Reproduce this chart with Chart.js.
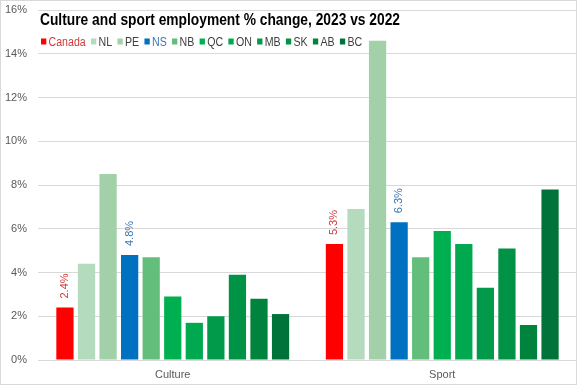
<!DOCTYPE html>
<html>
<head>
<meta charset="utf-8">
<script src="https://cdn.jsdelivr.net/npm/chart.js@4.4.1/dist/chart.umd.min.js"></script>
<style>
  html, body { margin: 0; padding: 0; background: #fff; }
  #wrap { width: 577px; height: 385px; position: relative; }
</style>
</head>
<body>
<div id="wrap"><canvas id="myChart"></canvas></div>
<script>
var chartTitle = 'Culture and sport employment % change, 2023 vs 2022';
var categories = ['Culture', 'Sport'];
var provinces = ['Canada', 'NL', 'PE', 'NS', 'NB', 'QC', 'ON', 'MB', 'SK', 'AB', 'BC'];
var culture = [2.4, 4.4, 8.5, 4.8, 4.7, 2.9, 1.7, 2.0, 3.9, 2.8, 2.1];
var sport = [5.3, 6.9, 14.6, 6.3, 4.7, 5.9, 5.3, 3.3, 5.1, 1.6, 7.8];
var yTicks = [0, 2, 4, 6, 8, 10, 12, 14, 16];
// only these two series get a value label
var labelled = ['Canada', 'NS'];

var barColors = ['#ff0000', '#b4dbbe', '#a1d0a9', '#0070c0', '#63be7b', '#00b050',
                 '#00a84f', '#009a4a', '#009245', '#00843d', '#00733a'];
var textColors = { Canada: '#d03a3a', NS: '#3a76b4' };

var datasets = provinces.map(function (p, i) {
  return {
    label: p,
    data: [culture[i], sport[i]],
    backgroundColor: barColors[i],
    borderWidth: 0
  };
});

var deco = {
  id: 'deco',
  beforeDraw: function (chart) {
    var ctx = chart.ctx;
    ctx.save();
    ctx.fillStyle = '#fff';
    ctx.fillRect(0, 0, chart.width, chart.height);
    ctx.restore();
  },
  afterDraw: function (chart) {
    var ctx = chart.ctx;
    ctx.save();

    // title, squeezed to the narrow look of the original
    ctx.fillStyle = '#000';
    ctx.font = 'bold 16px "Liberation Sans", sans-serif';
    ctx.textBaseline = 'alphabetic';
    ctx.textAlign = 'left';
    var tw = ctx.measureText(chartTitle).width;
    ctx.save();
    ctx.translate(40, 25);
    ctx.scale(360 / tw, 1);
    ctx.fillText(chartTitle, 0, 0);
    ctx.restore();

    // legend
    ctx.save();
    ctx.translate(41, 0);
    ctx.scale(0.885, 1);
    var x = 0;
    chart.data.datasets.forEach(function (ds) {
      ctx.fillStyle = ds.backgroundColor;
      ctx.fillRect(x, 38.5, 6, 6);
      x += 8.5;
      ctx.font = '12px "Liberation Sans", sans-serif';
      ctx.fillStyle = textColors[ds.label] || '#404040';
      ctx.fillText(ds.label, x, 45.5);
      x += ctx.measureText(ds.label).width + 6;
    });
    ctx.restore();

    // value labels
    ctx.font = '11px "Liberation Sans", sans-serif';
    ctx.textBaseline = 'middle';
    ctx.textAlign = 'left';
    chart.data.datasets.forEach(function (ds, i) {
      if (labelled.indexOf(ds.label) < 0) return;
      chart.getDatasetMeta(i).data.forEach(function (bar, j) {
        ctx.save();
        ctx.translate(bar.x, bar.y - 9);
        ctx.rotate(-Math.PI / 2);
        ctx.fillStyle = textColors[ds.label];
        ctx.fillText(ds.data[j].toFixed(1) + '%', 0, 0);
        ctx.restore();
      });
    });

    // chart border
    ctx.strokeStyle = '#d9d9d9';
    ctx.lineWidth = 1;
    ctx.strokeRect(0.5, 0.5, chart.width - 1, chart.height - 1);
    ctx.restore();
  }
};

var ctx = document.getElementById('myChart');
var myChart = new Chart(ctx, {
  type: 'bar',
  data: { labels: categories, datasets: datasets },
  options: {
    responsive: true,
    maintainAspectRatio: false,
    animation: false,
    categoryPercentage: 0.88,
    barPercentage: 0.8,
    layout: { padding: 0 },
    plugins: {
      legend: { display: false },
      title: { display: false },
      tooltip: { enabled: false }
    },
    scales: {
      x: {
        grid: { display: false, drawTicks: false },
        border: { display: false },
        ticks: { color: '#595959', font: { family: 'Liberation Sans', size: 11 }, padding: 8 },
        afterFit: function (scale) { scale.height = 25; }
      },
      y: {
        min: 0,
        max: 16,
        afterBuildTicks: function (scale) {
          scale.ticks = yTicks.map(function (v) { return { value: v }; });
        },
        grid: { color: '#d9d9d9', drawTicks: false },
        border: { display: false },
        ticks: {
          color: '#595959',
          padding: 11,
          font: { family: 'Liberation Sans', size: 11 },
          callback: function (v) { return v + '%'; }
        },
        afterFit: function (scale) {
          scale.width = 38;
          scale.paddingTop = 10;
          scale.paddingBottom = 0;
        }
      }
    }
  },
  plugins: [deco]
});
</script>
</body>
</html>
